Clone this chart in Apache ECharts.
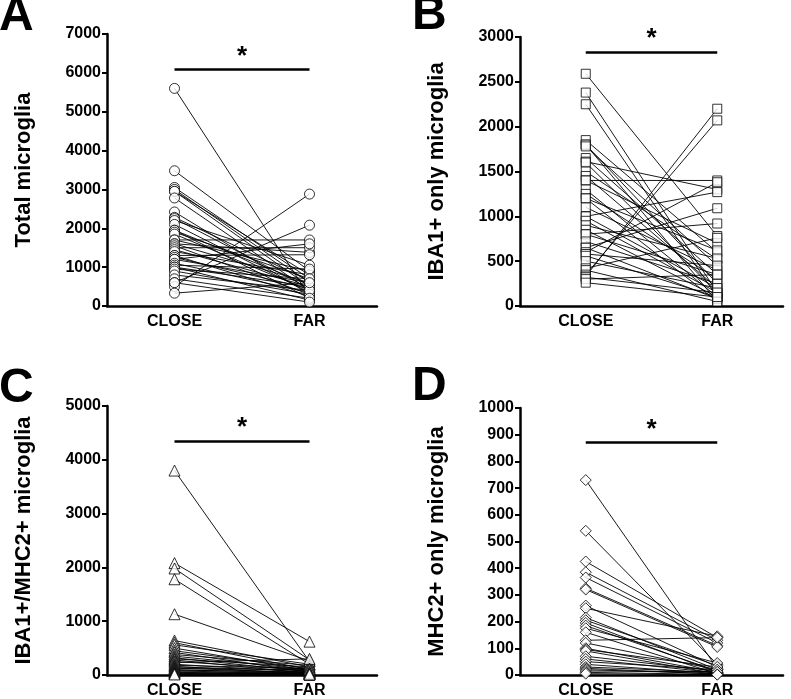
<!DOCTYPE html>
<html>
<head>
<meta charset="utf-8">
<script src="https://cdn.jsdelivr.net/npm/echarts@6/dist/echarts.min.js"></script>
<style>
html,body{margin:0;padding:0;background:#fff;}
#chart{width:791px;height:699px;}
</style>
</head>
<body>
<div id="chart"></div>
<script>
// ---- data ----
const categories = ['CLOSE', 'FAR'];

const closeA = [5600, 3480, 3050, 3000, 2950, 2950, 2780, 2420, 2280, 2250, 2200, 2100, 1950, 1950, 1900, 1850, 1700, 1700, 1600, 1600, 1550, 1500, 1450, 1400, 1300, 1300, 1250, 1200, 1200, 1100, 1050, 1000, 1000, 950, 900, 800, 700, 600, 500, 600, 330];
const farA   = [250, 900, 700, 600, 500, 800, 400, 300, 650, 450, 1050, 350, 550, 200, 700, 400, 1700, 900, 1380, 600, 300, 1500, 500, 800, 1320, 250, 450, 1600, 600, 350, 950, 500, 150, 700, 300, 400, 200, 2080, 2880, 100, 600];

const closeB = [2590, 2380, 2250, 1850, 1800, 1800, 1780, 1650, 1610, 1600, 1500, 1450, 1400, 1400, 1300, 1250, 1200, 1200, 1100, 1000, 1000, 950, 900, 850, 800, 800, 720, 650, 650, 600, 580, 560, 500, 420, 400, 350, 330, 320, 300, 260];
const farB   = [780, 150, 100, 600, 250, 50, 450, 350, 1300, 150, 520, 200, 1400, 700, 100, 300, 620, 50, 400, 1270, 200, 150, 530, 100, 920, 350, 250, 1090, 80, 1380, 450, 100, 200, 760, 50, 2070, 2200, 150, 350, 100];

const closeC = [3800, 2080, 1980, 1780, 1130, 640, 600, 560, 500, 450, 420, 380, 350, 320, 300, 280, 250, 230, 200, 180, 160, 150, 130, 120, 100, 90, 80, 60, 50, 40, 30, 20, 10];
const farC   = [250, 620, 280, 200, 260, 150, 100, 200, 80, 120, 50, 180, 100, 60, 150, 30, 100, 300, 50, 120, 20, 80, 40, 100, 30, 60, 10, 40, 20, 10, 5, 30, 10];

const closeD = [730, 540, 425, 385, 365, 325, 320, 260, 250, 215, 205, 195, 185, 175, 160, 130, 120, 100, 95, 90, 70, 60, 50, 40, 30, 25, 20, 15, 10, 5];
const farD   = [25, 40, 140, 130, 120, 110, 105, 30, 145, 20, 35, 10, 15, 45, 5, 140, 20, 10, 30, 5, 15, 8, 20, 5, 10, 3, 5, 12, 2, 1];

const yMax = [7000, 3000, 5000, 1000];
const yInterval = [1000, 500, 1000, 100];
const sigLevel = [6080, 2830, 4350, 870];
const yNames = ['Total microglia', 'IBA1+ only microglia', 'IBA1+/MHC2+ microglia', 'MHC2+ only microglia'];
const panelLetters = ['A', 'B', 'C', 'D'];
const symbols = ['circle', 'rect', 'triangle', 'diamond'];
const symbolSizes = [10, 9, 11, 11];

// ---- chart ----
const FONT = '"Liberation Sans", Arial, Helvetica, sans-serif';
const panels = [[closeA, farA], [closeB, farB], [closeC, farC], [closeD, farD]];
const grids = [
  {left: 107, top: 34, width: 270, height: 272},
  {left: 520, top: 37, width: 263, height: 269},
  {left: 107, top: 406, width: 270, height: 271},
  {left: 520, top: 408, width: 263, height: 269}
];
const letterPos = [[-1, 17], [412, 16], [-1, 389], [412, 387]];

const xAxes = [], yAxes = [], series = [];
grids.forEach((g, i) => {
  xAxes.push({
    type: 'category', gridIndex: i, data: categories, boundaryGap: true,
    axisLine: {lineStyle: {color: '#000', width: 2.5}},
    axisTick: {alignWithLabel: true, length: 4, lineStyle: {color: '#000', width: 2}},
    axisLabel: {color: '#000', fontFamily: FONT, fontWeight: 'bold', fontSize: 16, margin: 8},
    splitLine: {show: false}
  });
  yAxes.push({
    type: 'value', gridIndex: i, min: 0, max: yMax[i], interval: yInterval[i],
    name: yNames[i], nameLocation: 'middle', nameGap: 72,
    nameTextStyle: {color: '#000', fontFamily: FONT, fontWeight: 'bold', fontSize: 22},
    axisLine: {show: true, lineStyle: {color: '#000', width: 2.5}},
    axisTick: {show: true, length: 5, lineStyle: {color: '#000', width: 2}},
    axisLabel: {color: '#000', fontFamily: FONT, fontWeight: 'bold', fontSize: 16, margin: 6,
      formatter: v => String(v)},
    splitLine: {show: false}
  });
  const [c, f] = panels[i];
  c.forEach((v, j) => {
    series.push({
      type: 'line', xAxisIndex: i, yAxisIndex: i, data: [v, f[j]],
      symbol: 'none', silent: true, z: 2,
      lineStyle: {color: '#000', width: 0.9}
    });
  });
  const pts = [];
  c.forEach(v => pts.push([0, v]));
  f.forEach(v => pts.push([1, v]));
  series.push({
    type: 'scatter', xAxisIndex: i, yAxisIndex: i, data: pts, z: 3,
    symbol: symbols[i], symbolSize: symbolSizes[i], silent: true,
    itemStyle: {color: '#fff', borderColor: '#000', borderWidth: 1},
    markLine: {
      symbol: 'none', silent: true, animation: false,
      lineStyle: {color: '#000', width: 2.5, type: 'solid'},
      label: {show: true, position: 'middle', formatter: '*', color: '#000', fontFamily: FONT, fontWeight: 'bold', fontSize: 26, distance: 0},
      data: [[{coord: [categories[0], sigLevel[i]]}, {coord: [categories[1], sigLevel[i]]}]]
    }
  });
});

const graphic = panelLetters.map((t, i) => ({
  type: 'text', left: letterPos[i][0], top: letterPos[i][1] - 24, silent: true,
  style: {text: t, fill: '#000', font: 'bold 48px ' + FONT}
}));

const chart = echarts.init(document.getElementById('chart'), null, {renderer: 'canvas'});
chart.setOption({
  animation: false,
  backgroundColor: '#fff',
  grid: grids,
  xAxis: xAxes,
  yAxis: yAxes,
  series: series,
  graphic: graphic
});
</script>
</body>
</html>
